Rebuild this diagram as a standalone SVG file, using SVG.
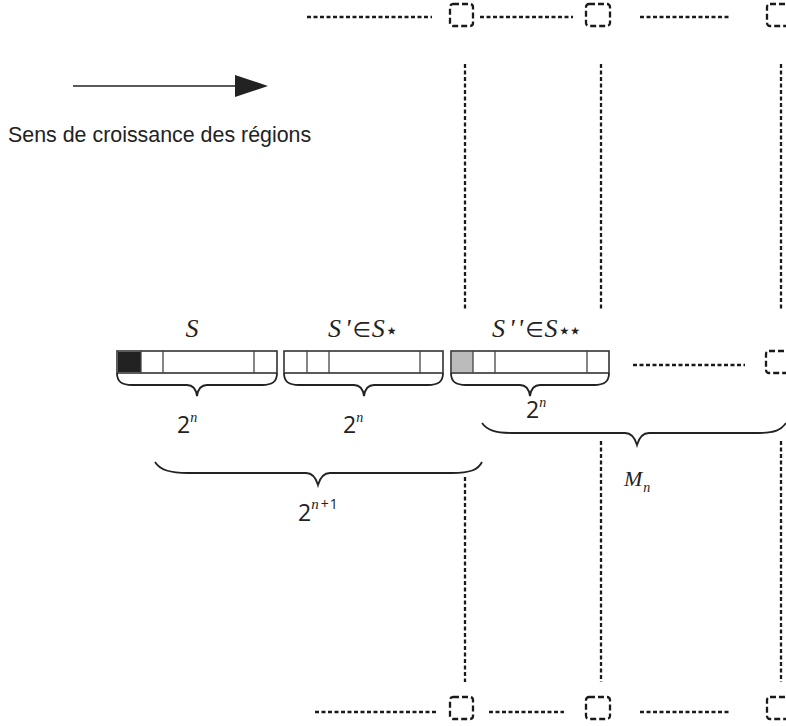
<svg xmlns="http://www.w3.org/2000/svg" width="786" height="726" viewBox="0 0 786 726">
<style>
.dot{stroke:#1a1a1a;stroke-width:2.3;stroke-dasharray:4 2.5;fill:none}
.sq{stroke:#1a1a1a;stroke-width:2.3;stroke-dasharray:6 3;fill:none}
.blk{stroke:#333;stroke-width:1.6;fill:#fff}
.div{stroke:#444;stroke-width:1.3}
.brace{stroke:#222;stroke-width:1.8;fill:none}
.m{font-family:"Liberation Serif","DejaVu Serif",serif;font-style:italic;fill:#222}
.d{font-family:"Open Sans","DejaVu Sans",sans-serif;fill:#222}
.st{font-family:"DejaVu Sans",sans-serif;font-style:normal;fill:#222}
.t{font-family:"Liberation Sans",Arial,sans-serif;fill:#222}
</style>
<rect width="786" height="726" fill="#fff"/>
<g id="connectors">
<line x1="73" y1="86" x2="240" y2="86" stroke="#222" stroke-width="1.5"/>
<polygon points="235,75 268,86 235,97" fill="#222"/>
<line class="dot" x1="307" y1="17" x2="432" y2="17"/>
<line class="dot" x1="480" y1="17" x2="573" y2="17"/>
<line class="dot" x1="640" y1="17" x2="730" y2="17"/>
<line class="dot" x1="315" y1="712" x2="436" y2="712"/>
<line class="dot" x1="489" y1="712" x2="564" y2="712"/>
<line class="dot" x1="640" y1="712" x2="729" y2="712"/>
<line class="dot" x1="633" y1="365" x2="745" y2="365"/>
<line class="dot" x1="465" y1="64" x2="465" y2="310"/>
<line class="dot" x1="601" y1="64" x2="601" y2="310"/>
<line class="dot" x1="781" y1="64" x2="781" y2="310"/>
<line class="dot" x1="465" y1="477" x2="465" y2="682"/>
<line class="dot" x1="601" y1="441" x2="601" y2="682"/>
<line class="dot" x1="781" y1="441" x2="781" y2="682"/>
<path class="brace" d="M117,373 C117,382 122,385 132,385 L187,385 C193,385 196,389 197,396 C198,389 201,385 207,385 L262,385 C272,385 277,382 277,373"/>
<path class="brace" d="M284,373 C284,382 289,385 299,385 L354,385 C360,385 363,389 364,396 C365,389 368,385 374,385 L428,385 C438,385 443,382 443,373"/>
<path class="brace" d="M451,373 C451,382 456,385 466,385 L520,385 C526,385 529,389 530,396 C531,389 534,385 540,385 L594,385 C604,385 609,382 609,373"/>
<path class="brace" d="M155,462 C160,470 170,473 188,473 L306,473 C312,473 316,478 318,485 C320,478 324,473 330,473 L452,473 C470,473 478,470 482,462"/>
<path class="brace" d="M482,423 C487,430 495,433 512,433 L625,433 C631,433 635,438 637,445 C639,438 643,433 649,433 L758,433 C775,433 781,430 786,423"/>
</g>
<g id="squares">
<rect class="sq" x="450" y="4" width="23" height="22" rx="3"/>
<rect class="sq" x="586" y="4" width="24" height="22" rx="3"/>
<rect class="sq" x="767" y="4" width="30" height="22" rx="3"/>
<rect class="sq" x="450" y="697" width="23" height="22" rx="3"/>
<rect class="sq" x="586" y="697" width="24" height="22" rx="3"/>
<rect class="sq" x="767" y="697" width="30" height="22" rx="3"/>
<rect class="sq" x="766" y="351" width="30" height="22" rx="3"/>
</g>
<g id="block-S">
<rect class="blk" x="117" y="351" width="160" height="22"/>
<rect x="118" y="352" width="23" height="20" fill="#222"/>
<line class="div" x1="141" y1="351" x2="141" y2="373"/>
<line class="div" x1="163" y1="351" x2="163" y2="373"/>
<line class="div" x1="254" y1="351" x2="254" y2="373"/>
</g>
<g id="block-S1">
<rect class="blk" x="284" y="351" width="159" height="22"/>
<line class="div" x1="307" y1="351" x2="307" y2="373"/>
<line class="div" x1="329" y1="351" x2="329" y2="373"/>
<line class="div" x1="420" y1="351" x2="420" y2="373"/>
</g>
<g id="block-S2">
<rect class="blk" x="451" y="351" width="158" height="22"/>
<rect x="452" y="352" width="21" height="20" fill="#bbb"/>
<line class="div" x1="473" y1="351" x2="473" y2="373"/>
<line class="div" x1="495" y1="351" x2="495" y2="373"/>
<line class="div" x1="587" y1="351" x2="587" y2="373"/>
</g>
<g id="labels">
<text class="t" x="8" y="142" font-size="21.4">Sens de croissance des régions</text>
<text class="m" x="192" y="337" font-size="26" text-anchor="middle">S</text>
<text class="m" x="328" y="337" font-size="26">S<tspan dx="4">'</tspan><tspan class="st" font-size="21" dx="2">∈</tspan><tspan dx="1">S</tspan><tspan class="st" font-size="22" dy="1">⋆</tspan></text>
<text class="m" x="492" y="337" font-size="26">S<tspan dx="4">'</tspan><tspan dx="3">'</tspan><tspan class="st" font-size="21" dx="2">∈</tspan><tspan dx="1">S</tspan><tspan class="st" font-size="22" dy="1" letter-spacing="-3">⋆⋆</tspan></text>
<text class="d" x="177" y="433" font-size="23">2<tspan class="m" font-size="14" dy="-11">n</tspan></text>
<text class="d" x="343" y="433" font-size="23">2<tspan class="m" font-size="14" dy="-11">n</tspan></text>
<text class="d" x="526" y="418" font-size="23">2<tspan class="m" font-size="14" dy="-11">n</tspan></text>
<text class="d" x="298" y="521" font-size="23">2<tspan class="m" font-size="15" dy="-12">n</tspan><tspan class="d" font-size="14" dx="2">+</tspan><tspan class="d" font-size="14" dx="1">1</tspan></text>
<text class="m" x="624" y="486" font-size="22">M<tspan font-size="14" dx="1" dy="6">n</tspan></text>
</g>
</svg>
